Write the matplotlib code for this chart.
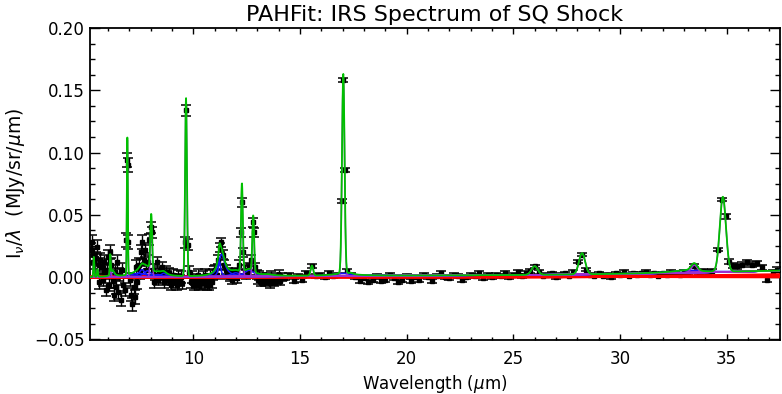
import numpy as np
import matplotlib
matplotlib.use('Agg')
import matplotlib.pyplot as plt

wave_sl = [5.20, 5.25, 5.30, 5.35, 5.40, 5.45, 5.51, 5.56, 5.60, 5.65,
           5.70, 5.75, 5.80, 5.85, 5.90, 5.95, 6.00, 6.05, 6.11, 6.16,
           6.22, 6.28, 6.33, 6.38, 6.43, 6.48, 6.54, 6.60, 6.66, 6.72,
           6.78, 6.87, 6.90, 6.925, 6.95, 7.02, 7.08, 7.14, 7.20, 7.26,
           7.32, 7.38, 7.44, 7.50, 7.56, 7.62, 7.68, 7.74, 7.80, 7.86,
           7.93, 8.01, 8.05, 8.10, 8.16, 8.22, 8.28, 8.34, 8.40, 8.46,
           8.52, 8.58, 8.64, 8.70, 8.76, 8.82, 8.88, 8.94, 9.00, 9.06,
           9.12, 9.18, 9.24, 9.30, 9.36, 9.42, 9.48, 9.59, 9.65, 9.73,
           9.81, 9.88, 9.95, 10.02, 10.08, 10.14, 10.20, 10.26, 10.32, 10.38,
           10.44, 10.50, 10.56, 10.62, 10.68, 10.74, 10.80, 10.86, 10.92, 10.98,
           11.04, 11.10, 11.18, 11.25, 11.31, 11.38, 11.45, 11.52, 11.58, 11.64,
           11.70, 11.76, 11.82, 11.88, 11.94, 12.00, 12.06, 12.13, 12.23, 12.27,
           12.34, 12.41, 12.48, 12.55, 12.62, 12.70, 12.79, 12.84, 12.90, 12.97,
           13.04, 13.10, 13.17, 13.24, 13.31, 13.38, 13.45, 13.52, 13.59, 13.66,
           13.73, 13.80, 13.87, 13.94, 14.01, 14.08, 14.15]
flux_sl = [0.022, 0.028, 0.012, 0.018, 0.005, 0.015, 0.024, 0.010, -0.004, 0.014,
           0.008, -0.002, 0.012, 0.004, -0.010, 0.006, 0.016, -0.006, 0.020, 0.010,
           -0.003, -0.014, 0.004, -0.008, 0.012, -0.012, 0.002, -0.018, 0.006, -0.006,
           -0.010, 0.030, 0.094, 0.090, 0.028, -0.002, -0.014, -0.022, -0.008, -0.016,
           0.008, -0.004, 0.010, 0.004, 0.020, 0.028, 0.014, 0.022, 0.006, 0.012,
           0.030, 0.040, 0.036, 0.006, -0.004, 0.002, 0.012, -0.002, 0.004, 0.000,
           0.008, 0.002, -0.004, 0.004, 0.000, -0.002, 0.003, -0.006, -0.002, 0.002,
           -0.004, -0.002, -0.006, 0.001, -0.003, 0.000, -0.005, 0.028, 0.134, 0.026,
           0.004, -0.004, 0.000, -0.006, -0.002, -0.004, 0.002, -0.006, -0.003, -0.005,
           0.000, -0.004, 0.002, -0.006, -0.002, -0.006, 0.001, -0.004, 0.002, 0.004,
           0.006, 0.002, 0.014, 0.024, 0.028, 0.018, 0.010, 0.006, 0.002, 0.004,
           0.000, 0.002, -0.002, 0.003, 0.001, 0.004, -0.001, 0.010, 0.036, 0.060,
           0.020, 0.006, 0.002, 0.005, 0.008, 0.014, 0.044, 0.036, 0.008, 0.002,
           -0.002, 0.001, -0.004, 0.000, -0.003, -0.004, 0.000, -0.002, -0.005, 0.001,
           -0.003, -0.004, 0.000, -0.002, 0.002, -0.003, 0.000]
err_sl = [0.0055] * 50 + [0.0045] * 50 + [0.0035] * 47

# 12 points per row
wave_ll = [14.30, 14.50, 14.70, 14.90, 15.10, 15.30, 15.56, 15.75, 15.95, 16.15, 16.35, 16.55,
           16.75, 16.95, 17.03, 17.10, 17.22, 17.40, 17.60, 17.80, 18.00, 18.20, 18.40, 18.60,
           18.80, 19.00, 19.20, 19.40, 19.60, 19.80, 20.00, 20.20, 20.40, 20.60, 20.80, 21.00,
           21.20, 21.40, 21.60, 21.80, 22.00, 22.20, 22.40, 22.60, 22.80, 23.00, 23.20, 23.40,
           23.60, 23.80, 24.00, 24.20, 24.40, 24.60, 24.80, 25.00, 25.20, 25.40, 25.60, 25.80,
           26.00, 26.20, 26.40, 26.60, 26.80, 27.00, 27.20, 27.40, 27.60, 27.80, 28.05, 28.22,
           28.40, 28.60, 28.80, 29.00, 29.20, 29.40, 29.60, 29.80, 30.00, 30.20, 30.40, 30.60,
           30.80, 31.00, 31.20, 31.40, 31.60, 31.80, 32.00, 32.20, 32.40, 32.60, 32.80, 33.00,
           33.20, 33.48, 33.70, 33.90, 34.10, 34.30, 34.59, 34.76, 34.96, 35.12, 35.30, 35.50,
           35.70, 35.96, 36.20, 36.42, 36.65, 36.90, 37.15, 37.35]
flux_ll = [-0.001, 0.002, -0.003, 0.001, -0.002, 0.003, 0.009, 0.001, 0.002, 0.000, 0.003, 0.001,
           0.002, 0.061, 0.158, 0.086, 0.005, 0.002, 0.000, -0.003, -0.001, -0.004, -0.002, 0.001,
           -0.003, -0.002, 0.002, -0.001, -0.004, -0.002, 0.001, -0.003, 0.000, -0.002, 0.002, 0.000,
           -0.003, 0.001, 0.003, 0.000, -0.001, 0.002, 0.001, -0.002, 0.000, 0.002, 0.001, 0.003,
           -0.001, 0.002, 0.000, 0.002, 0.001, 0.003, 0.000, 0.002, 0.004, 0.001, 0.003, 0.005,
           0.0085, 0.004, 0.001, 0.002, 0.003, 0.000, 0.002, 0.003, 0.001, 0.004, 0.0125, 0.018,
           0.006, 0.002, 0.001, 0.003, 0.001, 0.002, 0.000, 0.003, 0.002, 0.004, 0.001, 0.003,
           0.002, 0.003, 0.004, 0.002, 0.003, 0.001, 0.003, 0.002, 0.004, 0.003, 0.002, 0.004,
           0.003, 0.009, 0.004, 0.005, 0.004, 0.005, 0.022, 0.062, 0.049, 0.0125, 0.009, 0.0085,
           0.010, 0.012, 0.010, 0.011, 0.008, -0.002, 0.004, 0.006]
err_ll = [0.0016] * 60 + [0.0013] * 44 + [0.002] * 12

# --- fitted model components ---
cont_temp = [35, 40, 50, 65, 90, 135]
cont_amp = [0.0020, 0.0013, 0.0008, 0.0005, 0.0003, 0.0002]   # value at 37.5 um

line_cen = [5.34, 5.51, 6.11, 6.91, 8.03, 9.66, 12.28, 12.81, 15.56, 17.03, 26.0, 28.22, 33.48, 34.82]
line_amp = [0.016, 0.006, 0.016, 0.110, 0.045, 0.143, 0.071, 0.045, 0.008, 0.160, 0.007, 0.017, 0.006, 0.060]
line_fwhm = [0.053, 0.053, 0.053, 0.053, 0.10, 0.10, 0.10, 0.10, 0.14, 0.14, 0.34, 0.34, 0.34, 0.34]

pah_cen = [6.22, 7.42, 7.60, 7.85, 8.33, 8.61, 11.23, 11.33, 11.99, 12.62, 13.48, 17.04, 17.38, 33.1]
pah_amp = [0.005, 0.003, 0.006, 0.005, 0.002, 0.003, 0.012, 0.018, 0.003, 0.005, 0.001, 0.002, 0.001, 0.002]
pah_frac = [0.030, 0.126, 0.044, 0.053, 0.050, 0.039, 0.012, 0.032, 0.045, 0.042, 0.040, 0.065, 0.012, 0.050]


def dust(lam, t):
    # modified blackbody (emissivity ~ lam^-2), in I_nu / lambda
    x = 14387.77 / (lam * t)
    return lam ** -6 / np.expm1(x)


def main():
    lam = np.linspace(5.1, 37.6, 3000)

    conts = [a * dust(lam, t) / dust(37.5, t) for t, a in zip(cont_temp, cont_amp)]
    cont_tot = np.sum(conts, axis=0)

    pahs = [a * g ** 2 / ((lam / c - c / lam) ** 2 + g ** 2)
            for c, a, g in zip(pah_cen, pah_amp, pah_frac)]
    lines = [a * np.exp(-4 * np.log(2) * ((lam - c) / w) ** 2)
             for c, a, w in zip(line_cen, line_amp, line_fwhm)]
    total = cont_tot + np.sum(pahs, axis=0) + np.sum(lines, axis=0)

    fig = plt.figure(figsize=(7.82, 3.94), dpi=100)
    ax = fig.add_axes([0.1151, 0.1371, 0.8824, 0.7919])

    for w, f, e in [(wave_sl, flux_sl, err_sl), (wave_ll, flux_ll, err_ll)]:
        ax.errorbar(w, f, yerr=e, fmt='s', color='black', ms=2.4, elinewidth=1.0,
                    capsize=3.3, capthick=1.1, zorder=2)

    for c in conts:
        ax.plot(lam, c, color='red', lw=2.0, zorder=3)
    ax.plot(lam, cont_tot, color='#8c8c8c', lw=1.2, zorder=3)
    for p in pahs:
        ax.plot(lam, p + cont_tot, color='#1414ff', lw=1.1, zorder=4)
    for l in lines:
        ax.plot(lam, l + cont_tot, color='#9b30d0', lw=1.1, zorder=5)
    ax.plot(lam, total, color='#00c000', lw=1.3, zorder=6)

    ax.set_xlim(5.16, 37.5)
    ax.set_ylim(-0.0505, 0.2)
    ax.set_xticks([10, 15, 20, 25, 30, 35])
    ax.set_xticks(np.arange(6, 38, 1), minor=True)
    ax.set_yticks([-0.05, 0.0, 0.05, 0.10, 0.15, 0.20])
    ax.set_yticks(np.arange(-0.05, 0.2001, 0.0125), minor=True)
    ax.set_yticklabels(['\u22120.05', '0.00', '0.05', '0.10', '0.15', '0.20'])

    ax.tick_params(axis='both', which='both', direction='in', top=True, right=True,
                   labelsize=12, width=1.0)
    ax.tick_params(axis='x', which='major', length=4.5, pad=7)
    ax.tick_params(axis='x', which='minor', length=2.3)
    ax.tick_params(axis='y', which='major', length=7.5, pad=4)
    ax.tick_params(axis='y', which='minor', length=3.8)
    for s in ax.spines.values():
        s.set_linewidth(1.3)

    ax.set_xlabel('Wavelength ($\\mu$m)', fontsize=12, labelpad=4)
    ax.set_ylabel('I$_{\\nu}$/$\\lambda$  (MJy/sr/$\\mu$m)', fontsize=13.5, labelpad=5)
    ax.set_title('PAHFit: IRS Spectrum of SQ Shock', fontsize=16, pad=5)

    fig.savefig('out.png', dpi=100)
    plt.close(fig)


if __name__ == '__main__':
    main()
